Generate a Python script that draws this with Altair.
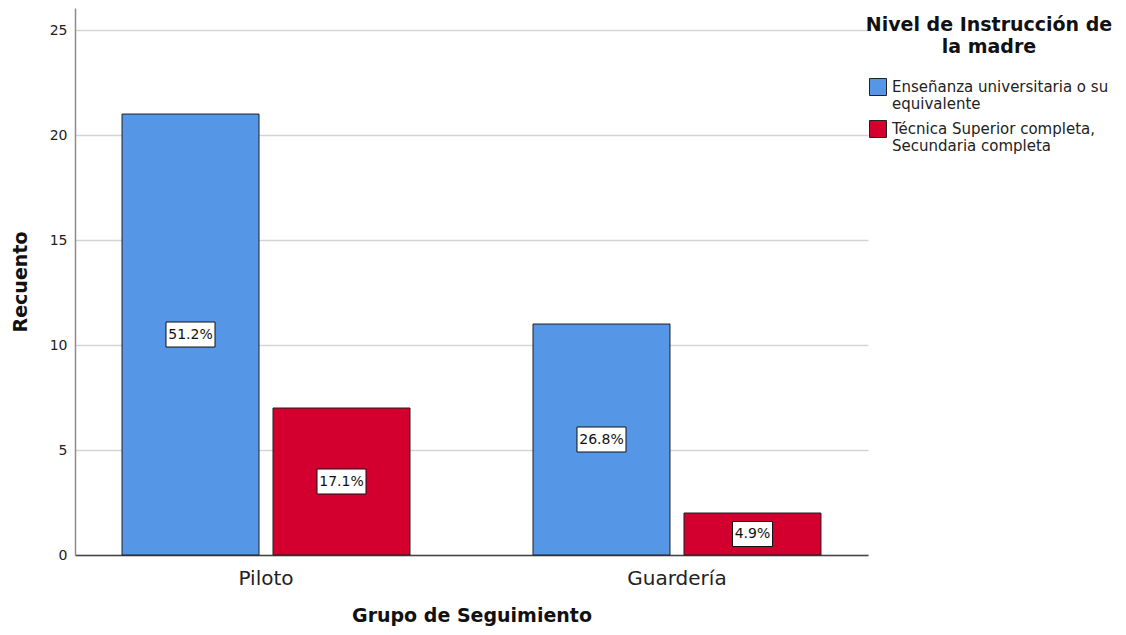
import altair as alt
import pandas as pd

groups = ["Piloto", "Guardería"]
series = ["Enseñanza universitaria o su equivalente",
          "Técnica Superior completa, Secundaria completa"]
counts_univ = [21, 11]
counts_tec = [7, 2]
pct_univ = ["51.2%", "26.8%"]
pct_tec = ["17.1%", "4.9%"]
y_ticks = [0, 5, 10, 15, 20, 25]

rows = []
for i, g in enumerate(groups):
    rows.append({"grupo": g, "nivel": series[0], "recuento": counts_univ[i], "pct": pct_univ[i]})
    rows.append({"grupo": g, "nivel": series[1], "recuento": counts_tec[i], "pct": pct_tec[i]})
df = pd.DataFrame(rows)

FONT = "DejaVu Sans"
BLUE = "#5596E6"
RED = "#D3002F"

x_enc = alt.X(
    "grupo:N", sort=groups,
    scale=alt.Scale(paddingInner=0.2993, paddingOuter=0.1144),
    axis=alt.Axis(title="Grupo de Seguimiento", labelAngle=0, ticks=False,
                  labelFontSize=20, labelColor="#222222", labelPadding=13,
                  labelFont=FONT, titleFont=FONT, titleFontSize=19, titleFontWeight="bold",
                  titleColor="#111111", titlePadding=18,
                  domainColor="#444444", domainWidth=1.5),
)
xo_enc = alt.XOffset("nivel:N", sort=series,
                     scale=alt.Scale(paddingInner=0.0927, paddingOuter=0))

y_axis = alt.Axis(title="Recuento", values=y_ticks, ticks=False, grid=True,
                  gridColor="#d4d4d4", gridWidth=1.5,
                  labelFontSize=14, labelColor="#222222", labelPadding=8, labelFont=FONT,
                  titleFont=FONT, titleFontSize=19, titleFontWeight="bold",
                  titleColor="#111111", titlePadding=19,
                  domainColor="#8c8c8c", domainWidth=1.5)
y_scale = alt.Scale(domain=[0, 26.05], nice=False, zero=True)

legend = alt.Legend(
    title=["Nivel de Instrucción de", "la madre"],
    orient="none", legendX=791, legendY=8,
    titleFont=FONT, titleFontSize=19, titleFontWeight="bold", titleColor="#111111",
    titleAnchor="middle", titleAlign="center", titleLineHeight=22, titlePadding=21,
    titleLimit=0,
    labelFont=FONT, labelFontSize=15, labelColor="#222222",
    labelLimit=0, labelOffset=5,
    symbolType="square", symbolSize=289, symbolStrokeColor="#222222",
    symbolStrokeWidth=1, symbolOpacity=1,
    labelExpr="indexof(datum.label, 'Enseñanza') == 0 ? ['Enseñanza universitaria o su', 'equivalente'] : ['Técnica Superior completa,', 'Secundaria completa']",
)

bars = alt.Chart(df).mark_bar(stroke="#1f1f1f", strokeWidth=1).encode(
    x=x_enc, xOffset=xo_enc,
    y=alt.Y("recuento:Q", scale=y_scale, axis=y_axis),
    color=alt.Color("nivel:N", sort=series,
                    scale=alt.Scale(domain=series, range=[BLUE, RED]),
                    legend=legend),
)

box5 = "M-24.5,-12.5H24.5V12.5H-24.5Z"
box4 = "M-20,-12.5H20V12.5H-20Z"

boxes = alt.Chart(df).transform_calculate(mid="datum.recuento / 2").mark_point(
    filled=True, fill="white", stroke="#111111", strokeWidth=1, size=4, opacity=1
).encode(
    x=x_enc, xOffset=xo_enc,
    y=alt.Y("mid:Q", scale=y_scale, axis=y_axis),
    shape=alt.condition("length(datum.pct) > 4", alt.value(box5), alt.value(box4)),
)

texts = alt.Chart(df).transform_calculate(mid="datum.recuento / 2").mark_text(
    font=FONT, fontSize=14, color="#111111", baseline="middle", align="center"
).encode(
    x=x_enc, xOffset=xo_enc,
    y=alt.Y("mid:Q", scale=y_scale, axis=y_axis),
    text="pct:N",
)

chart = alt.layer(bars, boxes, texts).properties(
    width=793, height=547,
    autosize=alt.AutoSizeParams(type="none"),
    padding={"left": 67, "top": 0, "right": 250, "bottom": 72},
).configure_view(stroke=None).configure_legend(rowPadding=6)

chart.save("out.html", embed_options={"renderer": "svg", "actions": False})
